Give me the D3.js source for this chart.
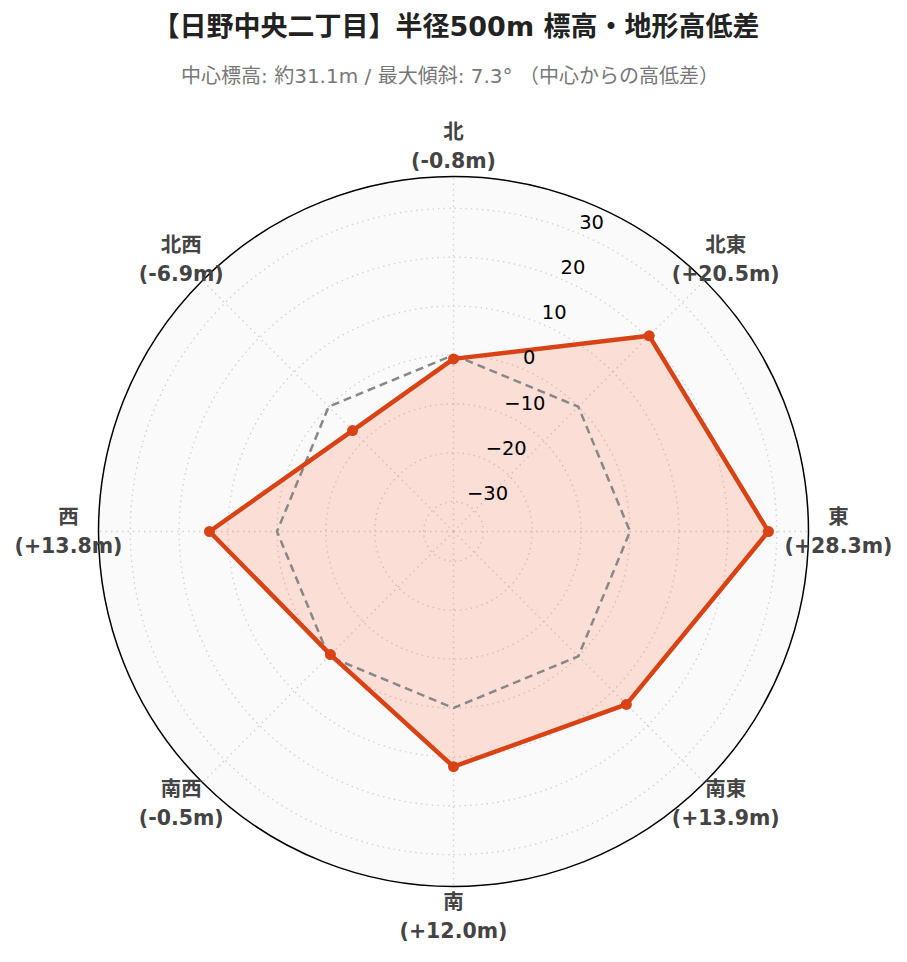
<!DOCTYPE html>
<html><head><meta charset="utf-8">
<script src="https://cdn.jsdelivr.net/npm/d3@7"></script>
<style>body{margin:0;background:#fff;} svg{display:block;}</style>
</head><body>
<svg id="chart" width="907" height="962"></svg>
<script>
const directions = ["北","北東","東","南東","南","南西","西","北西"];
const diffs = [-0.8, 20.5, 28.3, 13.9, 12.0, -0.5, 13.8, -6.9];
const zeroRef = [0, 0, 0, 0, 0, 0, 0, 0];
const radialTicks = [-30, -20, -10, 0, 10, 20, 30];
const radialRange = [-36.1, 36.5];
const titleText = "【日野中央二丁目】半径500m 標高・地形高低差";
const subtitleText = "中心標高: 約31.1m / 最大傾斜: 7.3° （中心からの高低差）";

const FONT = "'DejaVu Sans','Noto Sans CJK JP',sans-serif";
const svg = d3.select("#chart");
const cx = 453.5, cy = 531.5, R = 355;

const r = d3.scaleLinear().domain(radialRange).range([0, R]);
const angleOf = d => (directions.indexOf(d)) * 2*Math.PI/directions.length;
const pt = (a, rad) => [cx + rad*Math.sin(a), cy - rad*Math.cos(a)];

svg.append("text").attr("x", 456).attr("y", 36).attr("text-anchor","middle")
  .attr("font-family", FONT).attr("font-weight","bold").attr("font-size", 27).attr("fill","#222").text(titleText);
svg.append("text").attr("x", 450).attr("y", 83).attr("text-anchor","middle")
  .attr("font-family", FONT).attr("font-size", 20).attr("fill","#777").text(subtitleText);

const g = svg.append("g");
g.append("circle").attr("cx",cx).attr("cy",cy).attr("r",R).attr("fill","#fafafa");

// grid circles
g.selectAll(".gc").data(radialTicks).enter().append("circle")
  .attr("cx",cx).attr("cy",cy).attr("r", d=>r(d)).attr("fill","none")
  .attr("stroke","#d2d2d2").attr("stroke-width",1.4).attr("stroke-dasharray","1.5,4");
// spokes
g.selectAll(".sp").data(directions).enter().append("line")
  .attr("x1",cx).attr("y1",cy)
  .attr("x2", d=>pt(angleOf(d),R)[0]).attr("y2", d=>pt(angleOf(d),R)[1])
  .attr("stroke","#d2d2d2").attr("stroke-width",1.4).attr("stroke-dasharray","1.5,4");

const line = d3.lineRadial().angle((d,i)=>angleOf(directions[i])).radius(d=>r(d)).curve(d3.curveLinearClosed);

// data fill
g.append("path").attr("transform",`translate(${cx},${cy})`).attr("d", line(diffs))
  .attr("fill","rgba(255,87,34,0.17)").attr("stroke","none");
// zero reference
g.append("path").attr("transform",`translate(${cx},${cy})`).attr("d", line(zeroRef))
  .attr("fill","none").attr("stroke","#888").attr("stroke-width",2.5).attr("stroke-dasharray","8,5");
// data line
g.append("path").attr("transform",`translate(${cx},${cy})`).attr("d", line(diffs))
  .attr("fill","none").attr("stroke","#d84315").attr("stroke-width",4.5).attr("stroke-linejoin","round");
g.selectAll(".dot").data(diffs).enter().append("circle")
  .attr("cx",(d,i)=>pt(angleOf(directions[i]), r(d))[0])
  .attr("cy",(d,i)=>pt(angleOf(directions[i]), r(d))[1])
  .attr("r",5.5).attr("fill","#d84315");

// outer border
g.append("circle").attr("cx",cx).attr("cy",cy).attr("r",R).attr("fill","none").attr("stroke","#000").attr("stroke-width",1.5);

// radial tick labels at 22.5 deg
const tickAng = Math.PI/8;
g.selectAll(".tl").data(radialTicks).enter().append("text")
  .attr("x", d=>pt(tickAng, r(d))[0] + 2)
  .attr("y", d=>pt(tickAng, r(d))[1] - 4)
  .attr("font-family", FONT).attr("font-size", 19.5).attr("fill","#000")
  .text(d => d < 0 ? "\u2212" + Math.abs(d) : String(d));

// angular labels
const fmt = v => "(" + (v > 0 ? "+" : "") + v.toFixed(1) + "m)";
const labR = 385;
directions.forEach((d,i) => {
  const [x,y] = pt(angleOf(d), labR);
  const t = g.append("text").attr("text-anchor","middle").attr("font-family",FONT)
    .attr("font-weight","bold").attr("font-size",20.5).attr("fill","#444");
  t.append("tspan").attr("x",x).attr("y",y-14.5).attr("dominant-baseline","central").text(d);
  t.append("tspan").attr("x",x).attr("y",y+14.5).attr("dominant-baseline","central").text(fmt(diffs[i]));
});
</script>
</body></html>
